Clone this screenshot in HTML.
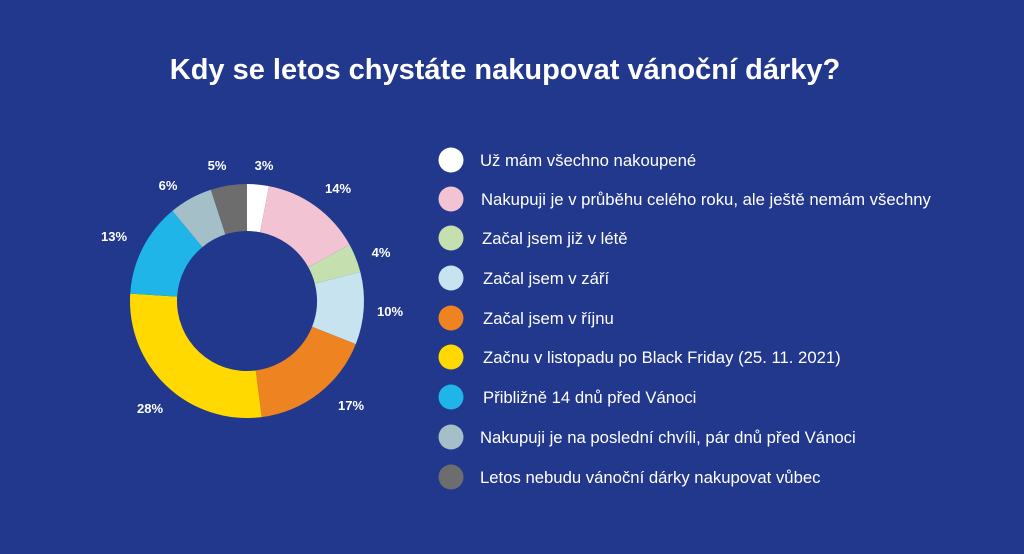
<!DOCTYPE html>
<html><head><meta charset="utf-8"><style>
html,body{margin:0;padding:0;background:#22388c;}
svg{display:block;}
text{font-family:"Liberation Sans",sans-serif;fill:#fff;}
</style></head><body>
<svg id="s" width="1024" height="554" viewBox="0 0 1024 554">
<rect width="1024" height="554" fill="#22388c"/>
<text x="505" y="79" text-anchor="middle" font-size="29" font-weight="bold">Kdy se letos chystáte nakupovat vánoční dárky?</text>
<g id="pie"></g>
<g font-size="13" font-weight="bold" text-anchor="middle">
<text x="264" y="170">3%</text>
<text x="338" y="193">14%</text>
<text x="381" y="257">4%</text>
<text x="390" y="316">10%</text>
<text x="351" y="410">17%</text>
<text x="150" y="413">28%</text>
<text x="114" y="241">13%</text>
<text x="168" y="190">6%</text>
<text x="217" y="170">5%</text>
</g>
<g font-size="16.7">
<circle cx="451" cy="160" r="12.5" fill="#ffffff"/><text x="480" y="166">Už mám všechno nakoupené</text>
<circle cx="451" cy="199" r="12.5" fill="#f2c4d3"/><text x="481" y="205">Nakupuji je v průběhu celého roku, ale ještě nemám všechny</text>
<circle cx="451" cy="238" r="12.5" fill="#c5dfae"/><text x="482" y="244">Začal jsem již v létě</text>
<circle cx="451" cy="278" r="12.5" fill="#c7e3f0"/><text x="483" y="284">Začal jsem v září</text>
<circle cx="451" cy="318" r="12.5" fill="#ee8322"/><text x="483" y="324">Začal jsem v říjnu</text>
<circle cx="451" cy="357" r="12.5" fill="#ffd900"/><text x="483" y="363">Začnu v listopadu po Black Friday (25. 11. 2021)</text>
<circle cx="451" cy="397" r="12.5" fill="#1fb5e8"/><text x="483" y="403">Přibližně 14 dnů před Vánoci</text>
<circle cx="451" cy="437" r="12.5" fill="#a5bfc9"/><text x="480" y="443">Nakupuji je na poslední chvíli, pár dnů před Vánoci</text>
<circle cx="451" cy="477" r="12.5" fill="#6d6d6d"/><text x="480" y="483">Letos nebudu vánoční dárky nakupovat vůbec</text>
</g>
</svg>
<script>
(function(){
var v=[3,14,4,10,17,28,13,6,5],c=["#ffffff","#f2c4d3","#c5dfae","#c7e3f0","#ee8322","#ffd900","#1fb5e8","#a5bfc9","#6d6d6d"];
var cx=247,cy=301,R=117,r=70,a=0,g=document.getElementById("pie"),h="";
function p(rad,ang){return [cx+rad*Math.sin(ang),cy-rad*Math.cos(ang)];}
for(var i=0;i<v.length;i++){
var a0=a/100*2*Math.PI;a+=v[i];var a1=a/100*2*Math.PI;var l=(a1-a0)>Math.PI?1:0;
var o0=p(R,a0),o1=p(R,a1),i1=p(r,a1),i0=p(r,a0);
h+='<path fill="'+c[i]+'" d="M'+o0+' A'+R+' '+R+' 0 '+l+' 1 '+o1+' L'+i1+' A'+r+' '+r+' 0 '+l+' 0 '+i0+' Z"/>';
}
g.innerHTML=h;
})();
</script>
</body></html>
